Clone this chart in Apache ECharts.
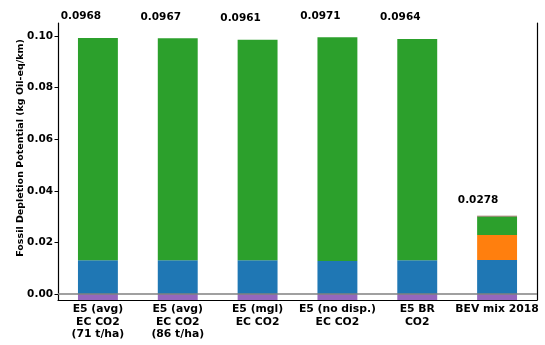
<!DOCTYPE html>
<html>
<head>
<meta charset="utf-8">
<script src="https://cdn.jsdelivr.net/npm/echarts@6/dist/echarts.min.js"></script>
<style>
  html, body { margin: 0; padding: 0; background: #fff; }
  #chart { width: 545px; height: 345px; }
</style>
</head>
<body>
<div id="chart"></div>
<script>
// Fossil depletion contributions per scenario (kg Oil-eq/km)
var categories = [
  'E5 (avg)\nEC CO2\n(71 t/ha)',
  'E5 (avg)\nEC CO2\n(86 t/ha)',
  'E5 (mgl)\nEC CO2',
  'E5 (no disp.)\nEC CO2',
  'E5 BR\nCO2',
  'BEV mix 2018'
];
var purpleVals = [-0.0024, -0.0024, -0.0024, -0.0024, -0.0024, -0.0025];
var blueVals   = [0.0131, 0.0131, 0.0131, 0.0128, 0.0131, 0.0132];
var orangeVals = [0, 0, 0, 0, 0, 0.0097];
var greenVals  = [0.0861, 0.0860, 0.0854, 0.0867, 0.0857, 0.0071];
var brownVals  = [0, 0, 0, 0, 0, 0.0003];
var yTicks = [0, 0.02, 0.04, 0.06, 0.08, 0.10];

// Net total per scenario (negative credits included)
var totals = categories.map(function (_, i) {
  return purpleVals[i] + blueVals[i] + orangeVals[i] + greenVals[i] + brownVals[i];
});

var FONT = 'DejaVu Sans';
var chart = echarts.init(document.getElementById('chart'), null, { renderer: 'canvas' });

// Stacked segment; empty (zero) segments are left invisible
function seg(name, color, vals, extra) {
  return {
    name: name,
    type: 'bar',
    stack: 'total',
    barWidth: '50%',
    data: vals.map(function (v, i) {
      var item = { value: v };
      if (v === 0) item.itemStyle = { color: 'rgba(0,0,0,0)' };
      if (extra) extra(item, i);
      return item;
    }),
    itemStyle: { color: color },
    clip: true
  };
}

var lastIdx = categories.length - 1;
var topSeries = seg('top', '#8c564b', brownVals, function (item, i) {
  item.label = { offset: i === lastIdx ? [-19, -5] : [-17, -11] };
});
topSeries.label = {
  show: true,
  position: 'top',
  fontFamily: FONT,
  fontWeight: 'bold',
  fontSize: 10.5,
  color: '#000',
  formatter: function (p) { return totals[p.dataIndex].toFixed(4); }
};
topSeries.markLine = {
  silent: true,
  symbol: 'none',
  label: { show: false },
  lineStyle: { color: '#808080', width: 1.6, type: 'solid' },
  data: [{ yAxis: 0 }]
};

var yMin = -0.00233, yMax = 0.10504;

chart.setOption({
  animation: false,
  grid: { left: 58, right: 8, top: 23, bottom: 45, containLabel: false },
  xAxis: {
    type: 'category',
    data: categories,
    axisLine: { onZero: false, lineStyle: { color: '#000', width: 1.2 } },
    axisTick: { show: false },
    axisLabel: {
      interval: 0,
      margin: 3,
      fontFamily: FONT,
      fontWeight: 'bold',
      fontSize: 10.8,
      lineHeight: 12.5,
      color: '#000'
    },
    splitLine: { show: false }
  },
  yAxis: [{
    type: 'value',
    min: yMin,
    max: yMax,
    axisLine: { show: true, lineStyle: { color: '#000', width: 1.2 } },
    axisTick: { show: true, length: 3.5, customValues: yTicks, lineStyle: { color: '#000' } },
    axisLabel: {
      customValues: yTicks,
      margin: 5,
      fontFamily: FONT,
      fontWeight: 'bold',
      fontSize: 10.5,
      color: '#000',
      formatter: function (v) { return v.toFixed(2); }
    },
    splitLine: { show: false }
  }, {
    type: 'value',
    position: 'right',
    min: yMin,
    max: yMax,
    axisLine: { show: true, lineStyle: { color: '#000', width: 1.2 } },
    axisTick: { show: false },
    axisLabel: { show: false },
    splitLine: { show: false }
  }],
  graphic: [{
    type: 'text',
    x: 21,
    y: 148,
    rotation: Math.PI / 2,
    style: {
      text: 'Fossil Depletion Potential (kg Oil-eq/km)',
      font: 'bold 9.5px "DejaVu Sans"',
      fill: '#000',
      textAlign: 'center',
      textVerticalAlign: 'middle'
    }
  }],
  series: [
    seg('purple', '#9467bd', purpleVals),
    seg('blue', '#1f77b4', blueVals),
    seg('orange', '#ff7f0e', orangeVals),
    seg('green', '#2ca02c', greenVals),
    topSeries
  ]
});
</script>
</body>
</html>
